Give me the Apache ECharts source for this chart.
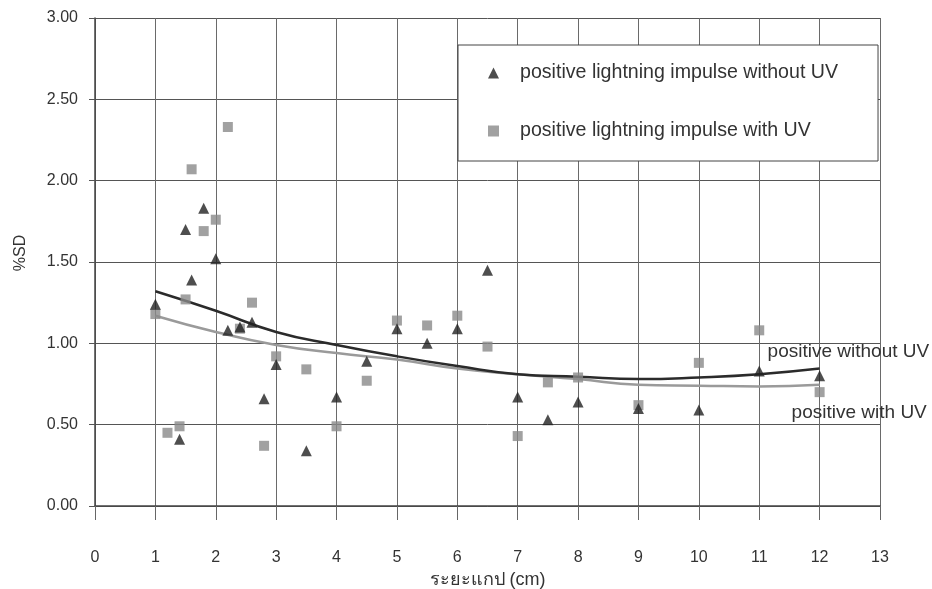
<!DOCTYPE html>
<html>
<head>
<meta charset="utf-8">
<script src="https://cdn.jsdelivr.net/npm/echarts@6/dist/echarts.min.js"></script>
<style>html,body{margin:0;padding:0;background:#fff}#c{width:932px;height:589px}</style>
</head>
<body>
<div id="c"></div>
<script>
// Data
var seriesNames = ['positive lightning impulse without UV', 'positive lightning impulse with UV'];
var xNoUV = [1, 1.4, 1.5, 1.6, 1.8, 2, 2.2, 2.4, 2.6, 2.8, 3, 3.5, 4, 4.5, 5, 5.5, 6, 6.5, 7, 7.5, 8, 9, 10, 11, 12];
var yNoUV = [1.24, 0.41, 1.70, 1.39, 1.83, 1.52, 1.08, 1.10, 1.13, 0.66, 0.87, 0.34, 0.67, 0.89, 1.09, 1.00, 1.09, 1.45, 0.67, 0.53, 0.64, 0.60, 0.59, 0.83, 0.80];
var xUV = [1, 1.2, 1.4, 1.5, 1.6, 1.8, 2, 2.2, 2.4, 2.6, 2.8, 3, 3.5, 4, 4.5, 5, 5.5, 6, 6.5, 7, 7.5, 8, 9, 10, 11, 12];
var yUV = [1.18, 0.45, 0.49, 1.27, 2.07, 1.69, 1.76, 2.33, 1.09, 1.25, 0.37, 0.92, 0.84, 0.49, 0.77, 1.14, 1.11, 1.17, 0.98, 0.43, 0.76, 0.79, 0.62, 0.88, 1.08, 0.70];
var trendX = [1, 2, 3, 4, 5, 6, 7, 8, 9, 10, 11, 12];
var trendNoUV = [1.32, 1.20, 1.07, 0.99, 0.92, 0.86, 0.81, 0.795, 0.78, 0.79, 0.81, 0.845];
var trendUV = [1.17, 1.07, 0.99, 0.94, 0.90, 0.845, 0.81, 0.78, 0.745, 0.74, 0.735, 0.745];
var trendLabels = ['positive without UV', 'positive with UV'];
var xTitle = 'ระยะแกป (cm)';
var yTitle = '%SD';

function pairs(xs, ys) { return xs.map(function (x, i) { return [x, ys[i]]; }); }

var chart = echarts.init(document.getElementById('c'));
var font = '"Liberation Sans", Arial, sans-serif';
chart.setOption({
  animation: false,
  backgroundColor: '#fff',
  textStyle: { fontFamily: font },
  grid: { left: 95, right: 52, top: 18, bottom: 83, containLabel: false, outerBoundsMode: 'none' },
  legend: {
    orient: 'vertical',
    left: 458, top: 45,
    padding: [18, 40, 20, 30],
    itemGap: 38,
    itemWidth: 11, itemHeight: 11,
    borderColor: '#444', borderWidth: 1,
    backgroundColor: '#fff',
    textStyle: { fontFamily: font, fontSize: 19.6, color: '#333', padding: [0, 0, 0, 16] },
    data: [
      { name: seriesNames[0], icon: 'triangle', itemStyle: { color: '#222' } },
      { name: seriesNames[1], icon: 'rect', itemStyle: { color: '#8a8a8a' } }
    ]
  },
  xAxis: {
    type: 'value', min: 0, max: 13, interval: 1,
    name: xTitle, nameLocation: 'middle', nameGap: 62,
    nameTextStyle: { fontFamily: font, fontSize: 18, color: '#333' },
    axisLine: { show: true, onZero: false, lineStyle: { color: '#444', width: 1.5 } },
    axisTick: { show: true, length: 14, lineStyle: { color: '#666' } },
    axisLabel: { margin: 44, fontSize: 16, color: '#333', fontFamily: font },
    splitLine: { show: true, lineStyle: { color: '#6a6a6a', width: 1 } }
  },
  yAxis: {
    type: 'value', min: 0, max: 3, interval: 0.5,
    name: yTitle, nameLocation: 'middle', nameGap: 66, nameRotate: 90,
    nameTextStyle: { fontFamily: font, fontSize: 16, color: '#333', padding: [0, 0, 0, 18] },
    axisLine: { show: true, lineStyle: { color: '#444', width: 1.5 } },
    axisTick: { show: true, length: 6, lineStyle: { color: '#555' } },
    axisLabel: { margin: 17, fontSize: 16, color: '#333', fontFamily: font,
      formatter: function (v) { return v.toFixed(2); } },
    splitLine: { show: true, lineStyle: { color: '#555', width: 1 } }
  },
  series: [
    {
      name: trendLabels[0], type: 'line', smooth: true, showSymbol: false, z: 3,
      data: pairs(trendX, trendNoUV),
      lineStyle: { color: '#2b2b2b', width: 2.5 },
      endLabel: { show: true, formatter: trendLabels[0], offset: [-60, -17],
        fontSize: 19, color: '#333', fontFamily: font },
      tooltip: { show: false }
    },
    {
      name: trendLabels[1], type: 'line', smooth: true, showSymbol: false, z: 2,
      data: pairs(trendX, trendUV),
      lineStyle: { color: '#9a9a9a', width: 2.5 },
      endLabel: { show: true, formatter: trendLabels[1], offset: [-36, 28],
        fontSize: 19, color: '#333', fontFamily: font },
      tooltip: { show: false }
    },
    {
      name: seriesNames[1], type: 'scatter', symbol: 'rect', symbolSize: 10, z: 4,
      data: pairs(xUV, yUV),
      itemStyle: { color: '#8a8a8a' }
    },
    {
      name: seriesNames[0], type: 'scatter', symbol: 'triangle', symbolSize: 11, z: 5,
      data: pairs(xNoUV, yNoUV),
      itemStyle: { color: '#222' }
    }
  ]
});
</script>
</body>
</html>
